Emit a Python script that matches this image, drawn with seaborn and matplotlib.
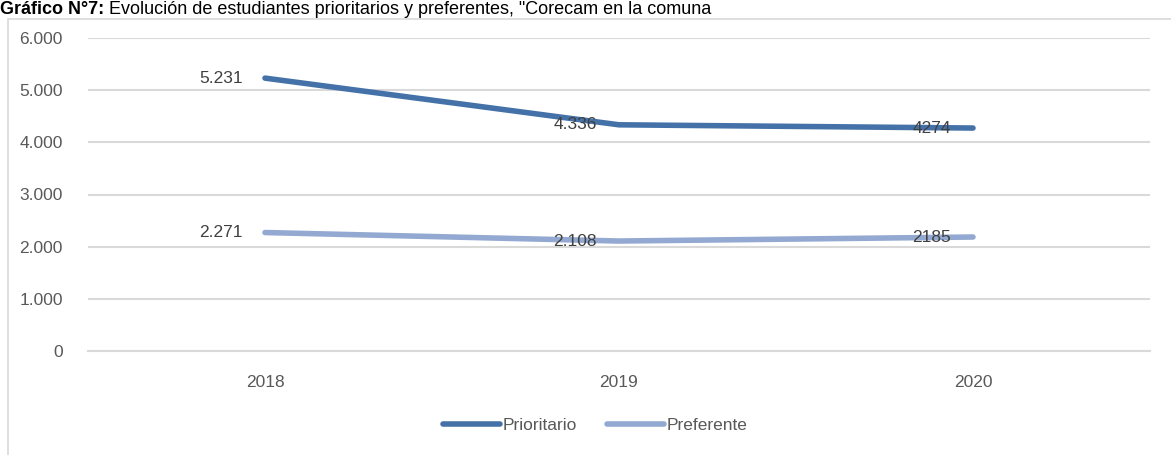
import matplotlib
matplotlib.use("Agg")
import matplotlib.pyplot as plt
import seaborn as sns
import pandas as pd
from matplotlib.patches import Rectangle
from matplotlib.ticker import FuncFormatter

years = ["2018", "2019", "2020"]
prioritario = [5231, 4336, 4274]
preferente = [2271, 2108, 2185]
labels_prioritario = ["5.231", "4.336", "4274"]
labels_preferente = ["2.271", "2.108", "2185"]
series_names = ["Prioritario", "Preferente"]
title_bold = "Gráfico N°7:"
title_rest = " Evolución de estudiantes prioritarios y preferentes, \"Corecam en la comuna"

df = pd.DataFrame({
    "year": years * 2,
    "value": prioritario + preferente,
    "serie": [series_names[0]] * 3 + [series_names[1]] * 3,
})

sns.set_theme(style="white")
font = ["Liberation Sans Narrow", "Liberation Sans", "DejaVu Sans"]
plt.rcParams["font.family"] = font

fig = plt.figure(figsize=(11.71, 4.55), dpi=100)
ax = fig.add_axes([88 / 1171, 1 - 351 / 455, (1150 - 88) / 1171, (351 - 38) / 455])

colors = {"Prioritario": "#4472a8", "Preferente": "#93a9d1"}
sns.lineplot(data=df, x="year", y="value", hue="serie", palette=colors, ax=ax,
             linewidth=4.0, sort=False, solid_capstyle="round")

ax.set_xlim(-0.5, 2.5)
ax.set_ylim(0, 6000)
ax.set_yticks([0, 1000, 2000, 3000, 4000, 5000, 6000])
ax.yaxis.set_major_formatter(FuncFormatter(lambda v, p: f"{int(v):,}".replace(",", ".")))
ax.grid(axis="y", color="#d9d9d9", linewidth=1.5)
ax.set_axisbelow(True)
for s in ["left", "right", "top"]:
    ax.spines[s].set_visible(False)
ax.spines["bottom"].set_color("#d9d9d9")
ax.spines["bottom"].set_linewidth(1.5)
ax.tick_params(axis="both", length=0, labelsize=12.5, colors="#595959")
ax.tick_params(axis="x", pad=17)
ax.tick_params(axis="y", pad=18)
ax.set_xlabel("")
ax.set_ylabel("")

for i, (v, lab) in enumerate(zip(prioritario, labels_prioritario)):
    ax.annotate(lab, (i, v), xytext=(-16, 0), textcoords="offset points",
                ha="right", va="center", fontsize=12.5, color="#404040")
for i, (v, lab) in enumerate(zip(preferente, labels_preferente)):
    ax.annotate(lab, (i, v), xytext=(-16, 0), textcoords="offset points",
                ha="right", va="center", fontsize=12.5, color="#404040")

ax.legend_.remove()
handles, lbls = ax.get_legend_handles_labels()
for h in handles:
    h.set_linewidth(4.0)
fig.legend(handles, lbls, loc="center", bbox_to_anchor=(595 / 1171, 1 - 425 / 455),
           ncol=2, frameon=False, fontsize=12.5, handlelength=3.3, handletextpad=0.15,
           columnspacing=1.7, labelcolor="#595959")

fig.patches.append(Rectangle((8 / 1171, -0.1), 1.2, 0.1 + 1 - 19 / 455,
                             transform=fig.transFigure, fill=False,
                             edgecolor="#d9d9d9", linewidth=1.2))

title_y = 1 - 1 / 455
t1 = fig.text(0.0, title_y, title_bold, ha="left", va="top", fontsize=13,
              fontweight="bold", color="black", family=["Liberation Sans", "DejaVu Sans"])
fig.canvas.draw()
bb = t1.get_window_extent()
fig.text(bb.x1 / fig.bbox.width, title_y, title_rest, ha="left", va="top",
         fontsize=13, color="black", family=["Liberation Sans", "DejaVu Sans"])

fig.savefig("out.png", dpi=100)
